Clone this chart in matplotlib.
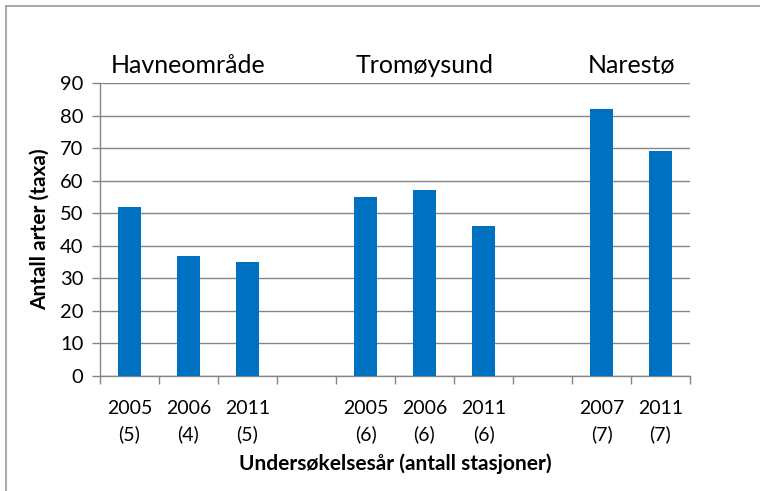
import matplotlib
matplotlib.use("Agg")
import matplotlib.pyplot as plt
from matplotlib.lines import Line2D
import numpy as np

years = ["2005", "2006", "2011", "", "2005", "2006", "2011", "", "2007", "2011"]
stations = ["(5)", "(4)", "(5)", "", "(6)", "(6)", "(6)", "", "(7)", "(7)"]
values = [52, 37, 35, None, 55, 57, 46, None, 82, 69]
group_of = ["Havneområde"] * 3 + [""] + ["Tromøysund"] * 3 + [""] + ["Narestø"] * 2
groups = ["Havneområde", "Tromøysund", "Narestø"]

FONT = "Lato"
GRAY = "#868686"
BLUE = "#0070C0"

fig = plt.figure(figsize=(7.6, 4.91), dpi=100)
ax = fig.add_axes([100 / 760, (491 - 376) / 491, 590 / 760, (376 - 83) / 491])

x = np.arange(len(years))
vals = [v if v is not None else 0 for v in values]
mask = [v is not None for v in values]
ax.bar(x[mask], np.array(vals)[mask], width=0.39, color=BLUE, zorder=3)

ax.set_xlim(-0.5, len(years) - 0.5)
ax.set_ylim(0, 90)
ax.set_yticks(np.arange(0, 91, 10))
ax.yaxis.grid(True, color=GRAY, linewidth=1)
ax.set_axisbelow(True)

ax.set_xticks(x)
ax.set_xticklabels([f"{y}\n{s}" if y else "" for y, s in zip(years, stations)],
                   fontsize=14, family=FONT, linespacing=1.55)
ax.set_xticks(np.arange(-0.5, len(years)), minor=True)
ax.tick_params(axis="x", which="major", length=0, pad=17)
ax.tick_params(axis="x", which="minor", length=6, color=GRAY, width=1)
ax.tick_params(axis="y", length=6, color=GRAY, width=1, labelsize=14.5, pad=6)
for lab in ax.get_yticklabels():
    lab.set_family(FONT)

for side in ["top", "right"]:
    ax.spines[side].set_visible(False)
for side in ["left", "bottom"]:
    ax.spines[side].set_color(GRAY)
    ax.spines[side].set_linewidth(1)

ax.set_ylabel("Antall arter (taxa)", fontsize=15, fontweight="bold", family=FONT, labelpad=7)
ax.set_xlabel("Undersøkelsesår (antall stasjoner)", fontsize=15, fontweight="bold", family=FONT, labelpad=8)

trans = ax.get_xaxis_transform()
for g in groups:
    idx = [i for i, gg in enumerate(group_of) if gg == g]
    ax.text(np.mean(idx), 1.02, g, transform=trans, ha="center", va="bottom",
            fontsize=18, family=FONT)

fig.add_artist(Line2D([6 / 760, 6 / 760], [0, 1 - 6 / 491], transform=fig.transFigure,
                      color="#9a9a9a", linewidth=1.2))
fig.add_artist(Line2D([6 / 760, 1], [1 - 6 / 491, 1 - 6 / 491], transform=fig.transFigure,
                      color="#9a9a9a", linewidth=1.2))

fig.savefig("out.png", dpi=100, facecolor="white")
